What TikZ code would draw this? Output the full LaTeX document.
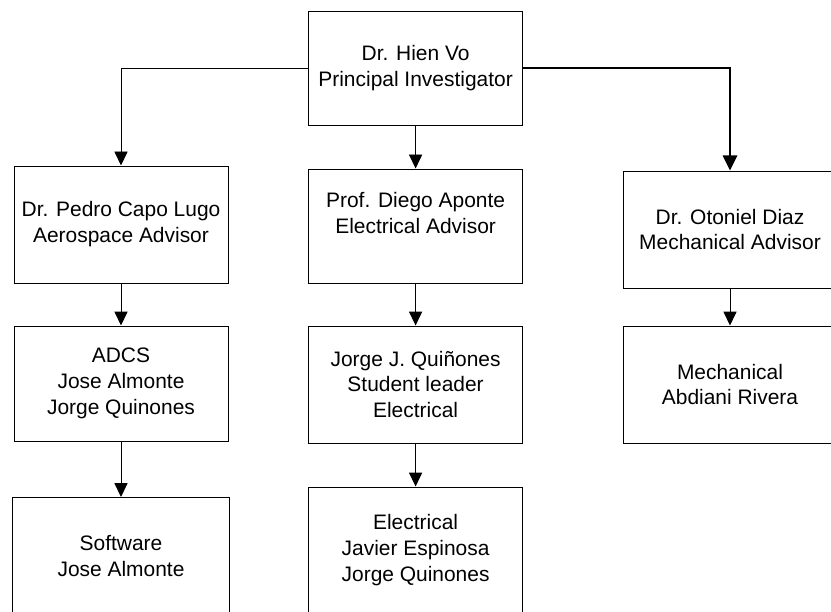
\documentclass[tikz,border=0pt]{standalone}
\usepackage{fontspec}
\setmainfont{Liberation Sans}
\usetikzlibrary{positioning}
\usetikzlibrary{arrows.meta}
\tikzset{
    mybox/.style = {rectangle, draw=black, line width=0.7pt, align=center, fill=white, inner sep=0, minimum width=5.35cm, minimum height=2.925cm, font=\fontsize{14.9pt}{18.4pt}\selectfont, text=black},
    myboxt/.style = {mybox, minimum height=3.15cm}, % taller
    edgen/.style = {-{Triangle[length=0.35cm,width=0.33cm]}, line width=0.7pt, black},
    edgeb/.style = {-{Triangle[length=0.38cm,width=0.36cm]}, line width=1.4pt, black}, % bold
}
\begin{document}
\begin{tikzpicture}
\useasboundingbox (0,0) rectangle (20.775,-15.3);
\node[mybox, minimum height=2.85cm] at (10.39, -1.70) (1) {Dr. Hien Vo\\Principal Investigator};
\node[mybox] at ( 3.025, -5.6125) (2) {Dr. Pedro Capo Lugo\\Aerospace Advisor};
\node[mybox, minimum height=2.85cm] at (10.39, -5.65) (3) {Prof. Diego Aponte\\Electrical Advisor\\\mbox{}};
\node[mybox] at (18.25, -5.7375) (4) {Dr. Otoniel Diaz\\Mechanical Advisor};
\node[mybox, minimum height=2.875cm] at ( 3.025, -9.5875) (5) {ADCS\\Jose Almonte\\Jorge Quinones};
\node[mybox] at (10.39, -9.6125) (6) {Jorge J. Quiñones\\Student leader\\Electrical};
\node[mybox] at (18.25, -9.6125) (7) {Mechanical\\Abdiani Rivera};
\node[mybox, minimum width=5.425cm] at ( 3.025, -13.9) (8) {Software\\Jose Almonte};
\node[myboxt] at (10.39, -13.75) (9) {Electrical\\Javier Espinosa\\Jorge Quinones};

\draw[edgen] (1.west) -| (2);
\draw[edgen] (1) -- (3);
\draw[edgeb] (1.east) -| (4);
\draw[edgen] (2) -- (5);
\draw[edgen] (5) -- (8);
\draw[edgen] (3) -- (6);
\draw[edgen] (6) -- (9);
\draw[edgen] (4) -- (7);

\end{tikzpicture}
\end{document}
